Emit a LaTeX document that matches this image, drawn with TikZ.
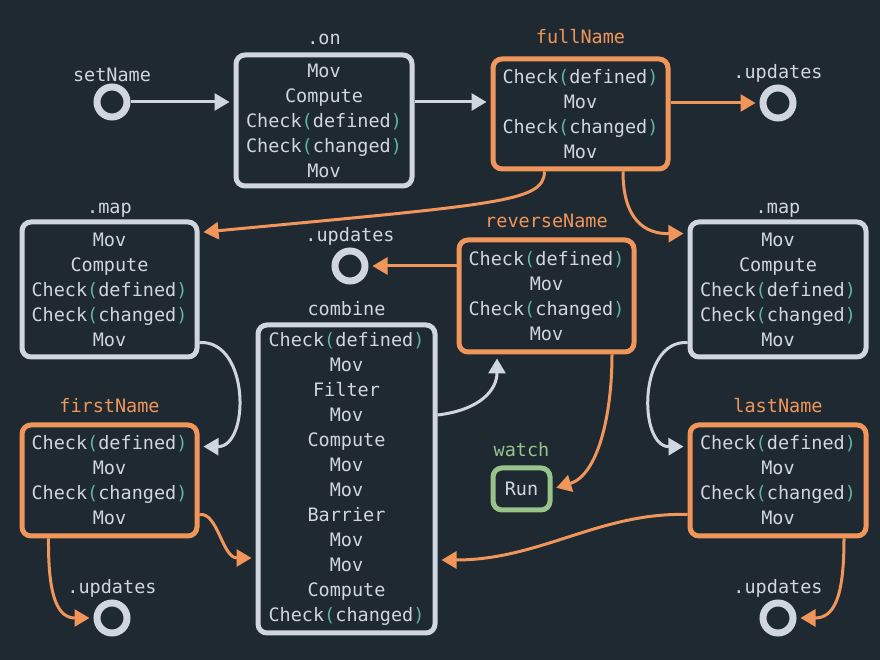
\documentclass[tikz,border=0pt]{standalone}
\usepackage{fontspec}
\setmainfont{DejaVu Sans Mono}
\usetikzlibrary{arrows.meta}

\definecolor{bg}{RGB}{31,41,49}
\definecolor{ink}{RGB}{208,214,224}
\definecolor{sig}{RGB}{240,150,90}
\definecolor{paren}{RGB}{95,180,160}
\definecolor{run}{RGB}{150,196,138}

\newcommand{\chk}[1]{Check\textcolor{paren}{(}#1\textcolor{paren}{)}}

\tikzset{
  op/.style={draw=ink, line width=5pt, rounded corners=9pt, fill=bg, text=ink,
    align=center, inner sep=0pt, font=\fontsize{18.5}{25}\selectfont},
  sop/.style={op, draw=sig},
  wop/.style={op, draw=run},
  port/.style={circle, draw=ink, line width=7pt, fill=bg, minimum size=30pt, inner sep=0pt},
  plbl/.style={yshift=-5pt},
  every label/.style={text=ink, inner sep=0pt, font=\fontsize{18.5}{25}\selectfont},
  arr/.style={draw=ink, line width=3pt, -{Triangle[length=15pt,width=17pt]}, shorten >=4pt},
  sarr/.style={arr, draw=sig},
}

\begin{document}
\begin{tikzpicture}[x=1pt, y=1pt, label distance=7pt]
    \fill[bg] (0,0) rectangle (880,660);
    \useasboundingbox (0,0) rectangle (880,660);

    % top row
    \node[port, label={[plbl]above:setName}] (setName) at (112,558) {};
    \node[op, minimum width=176pt, minimum height=131pt, label={[yshift=1pt]above:.on}] (on) at (324,539.5)
        {Mov\\Compute\\\chk{defined}\\\chk{changed}\\Mov};
    \node[sop, minimum width=175pt, minimum height=110pt, label={[text=sig, yshift=6pt]above:fullName}] (fullName) at (580.5,546)
        {\chk{defined}\\Mov\\\chk{changed}\\Mov};
    \node[port, label={[plbl]above:.updates}] (upd1) at (778,557) {};

    % map steps
    \node[op, minimum width=175pt, minimum height=135pt, label={[yshift=-5pt]above:.map}] (mapL) at (109.5,370.5)
        {Mov\\Compute\\\chk{defined}\\\chk{changed}\\Mov};
    \node[op, minimum width=176pt, minimum height=135pt, label={[yshift=-5pt]above:.map}] (mapR) at (778,370.5)
        {Mov\\Compute\\\chk{defined}\\\chk{changed}\\Mov};

    % middle
    \node[sop, minimum width=175pt, minimum height=112pt, label={[text=sig, yshift=3pt]above:reverseName}] (revName) at (546.5,364)
        {\chk{defined}\\Mov\\\chk{changed}\\Mov};
    \node[port, label={[plbl]above:.updates}] (upd2) at (350,394) {};
    \node[op, minimum width=177pt, minimum height=308pt, label={above:combine}] (combine) at (346.5,181)
        {\chk{defined}\\Mov\\Filter\\Mov\\Compute\\Mov\\Mov\\Barrier\\Mov\\Mov\\Compute\\\chk{changed}};
    \node[wop, minimum width=57pt, minimum height=42pt, label={[text=run, yshift=2pt]above:watch}] (watch) at (521.5,171) {Run};

    % name signals
    \node[sop, minimum width=175pt, minimum height=111pt, label={[text=sig, yshift=3pt]above:firstName}] (firstName) at (109.5,179.5)
        {\chk{defined}\\Mov\\\chk{changed}\\Mov};
    \node[sop, minimum width=176pt, minimum height=111pt, label={[text=sig, yshift=3pt]above:lastName}] (lastName) at (778,179.5)
        {\chk{defined}\\Mov\\\chk{changed}\\Mov};
    \node[port, label={[plbl]above:.updates}] (upd3) at (112,42) {};
    \node[port, label={[plbl]above:.updates}] (upd4) at (778,42) {};

    % grey edges
    \draw[arr] (setName) -- (setName -| on.west);
    \draw[arr] (on.east |- setName) -- (fullName.west |- setName);
    \draw[arr] ([yshift=17pt]mapL.south east) .. controls (250,320) and (250,213) .. ([yshift=-24pt]firstName.north east);
    \draw[arr] ([yshift=17pt]mapR.south west) .. controls (638,320) and (638,213) .. ([yshift=-24pt]lastName.north west);
    \draw[arr] ([yshift=64pt]combine.east) .. controls (480,250) and (497,270) .. ([xshift=-49.5pt]revName.south);

    % orange edges
    \draw[sarr] (fullName.east |- upd1) -- (upd1);
    \draw[sarr] ([xshift=-36pt]fullName.south) .. controls (544,458) and (500,456) .. ([yshift=-13pt]mapL.north east);
    \draw[sarr] ([xshift=42.5pt]fullName.south) .. controls (623,440) and (645,426) .. ([yshift=-14pt]mapR.north west);
    \draw[sarr] (revName.west |- upd2) -- (upd2);
    \draw[sarr] ([xshift=65.5pt]revName.south) .. controls (612,245) and (598,185) .. (watch.east);
    \draw[sarr] ([yshift=24pt]firstName.south east) .. controls (218,148) and (222,102) .. (combine.west |- 0,102);
    \draw[sarr] ([xshift=-61pt]firstName.south) .. controls (48,62) and (58,42) .. (upd3);
    \draw[sarr] ([yshift=24pt]lastName.south west) .. controls (600,148) and (540,100) .. (combine.east |- 0,100);
    \draw[sarr] ([xshift=66pt]lastName.south) .. controls (844,62) and (834,42) .. (upd4);
\end{tikzpicture}
\end{document}
